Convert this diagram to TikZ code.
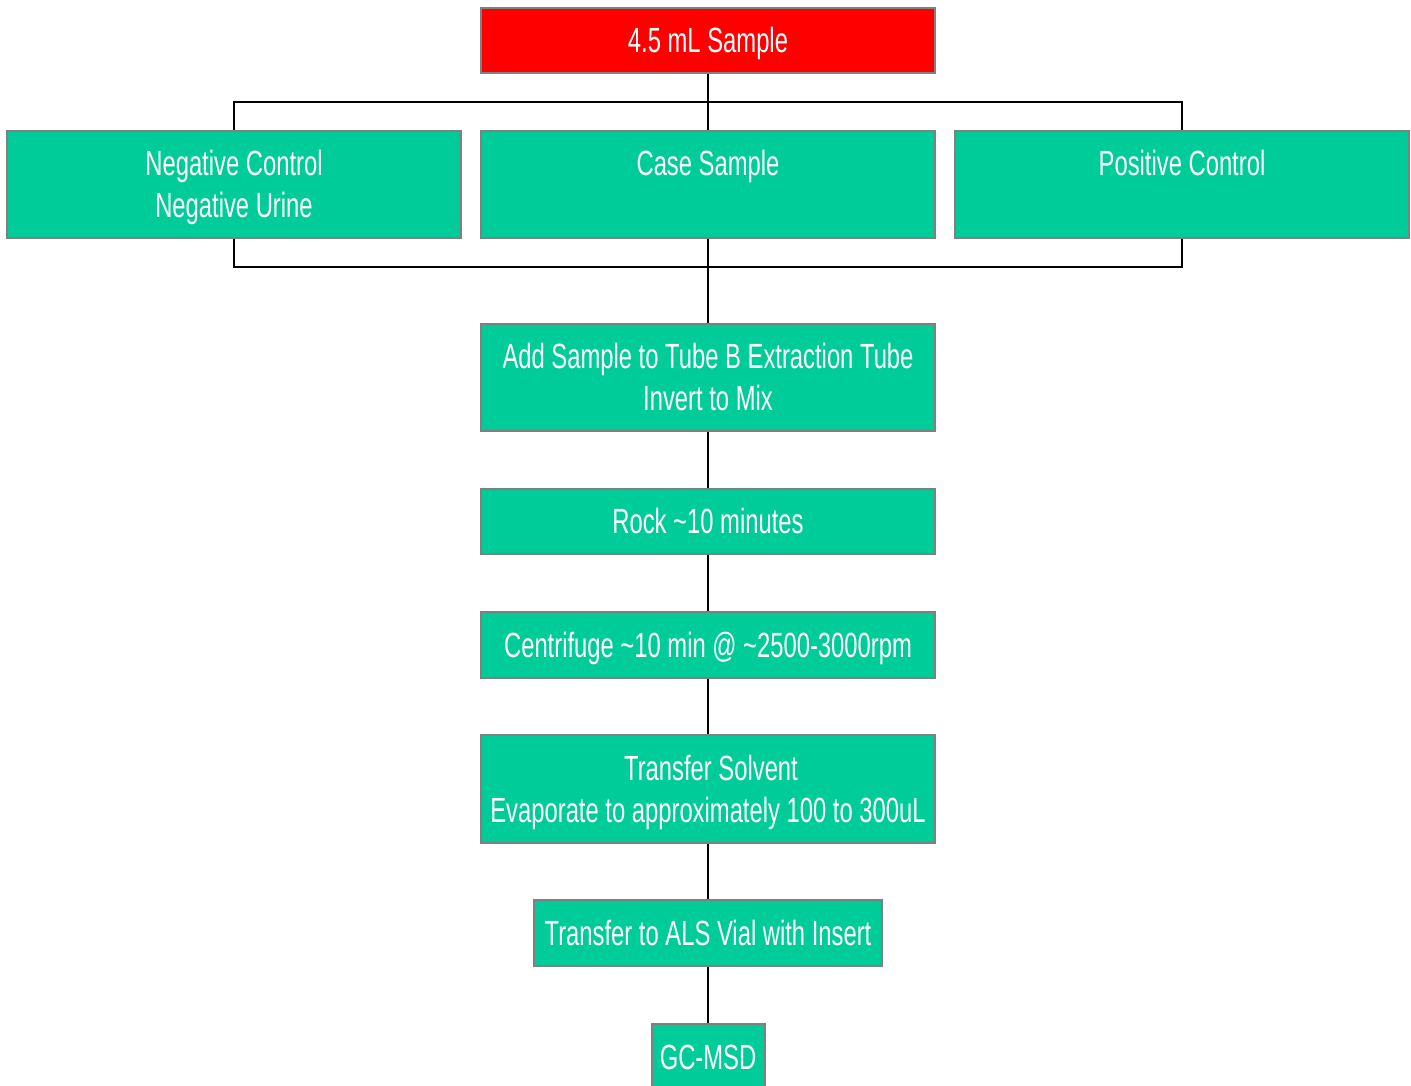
\documentclass[tikz,border=0pt]{standalone}
\usepackage{fontspec}
\setmainfont[FakeStretch=0.68]{Liberation Sans}
\definecolor{boxgreen}{RGB}{0,204,153}
\definecolor{boxred}{RGB}{255,0,0}
\definecolor{edgegray}{RGB}{128,128,128}
\newcommand{\twolines}[2]{\begin{tabular}[t]{@{}c@{}}#1\\#2\end{tabular}}
\begin{document}
\begin{tikzpicture}[x=1pt,y=-1pt,
  box/.style={draw=edgegray, line width=2pt, fill=boxgreen, text=white,
    font=\fontsize{35}{42}\selectfont, inner sep=0pt,
    minimum width=454pt, text height=25pt, text depth=1pt},
  tall/.style={minimum height=107pt, text depth=43pt},
  link/.style={draw=black, line width=2pt}]
\useasboundingbox (0,0) rectangle (1411,1086);
\node[box, fill=boxred, minimum height=65pt] (sample) at (708,40.5) {4.5 mL Sample};
\node[box, tall] (neg) at (234,184.5) {\twolines{Negative Control}{Negative Urine}};
\node[box, tall] (case) at (708,184.5) {Case Sample};
\node[box, tall] (pos) at (1182,184.5) {Positive Control};
\node[box, tall] (add) at (708,377.5) {\twolines{Add Sample to Tube B Extraction Tube}{Invert to Mix}};
\node[box, minimum height=65pt] (rock) at (708,521.5) {Rock \textasciitilde10 minutes};
\node[box, minimum height=66pt] (cent) at (708,645) {Centrifuge \textasciitilde10 min @ \textasciitilde2500-3000rpm};
\node[box, tall, minimum height=108pt] (transfer) at (708,789) {\twolines{\hspace*{6pt}Transfer Solvent}{Evaporate to approximately 100 to 300uL}};
\node[box, minimum width=348pt, minimum height=66pt] (als) at (708,933) {Transfer to ALS Vial with Insert};
\node[box, minimum width=113pt, minimum height=66pt] (gc) at (708,1057) {GC-MSD};
\coordinate (bt) at (708,102);
\coordinate (bb) at (708,267);
\draw[link] (sample.south) -- (case.north);
\draw[link] (neg.north) |- (bt) -| (pos.north);
\draw[link] (neg.south) |- (bb) -| (pos.south);
\draw[link] (case.south) -- (add.north);
\draw[link] (add.south) -- (rock.north);
\draw[link] (rock.south) -- (cent.north);
\draw[link] (cent.south) -- (transfer.north);
\draw[link] (transfer.south) -- (als.north);
\draw[link] (als.south) -- (gc.north);
\end{tikzpicture}
\end{document}
